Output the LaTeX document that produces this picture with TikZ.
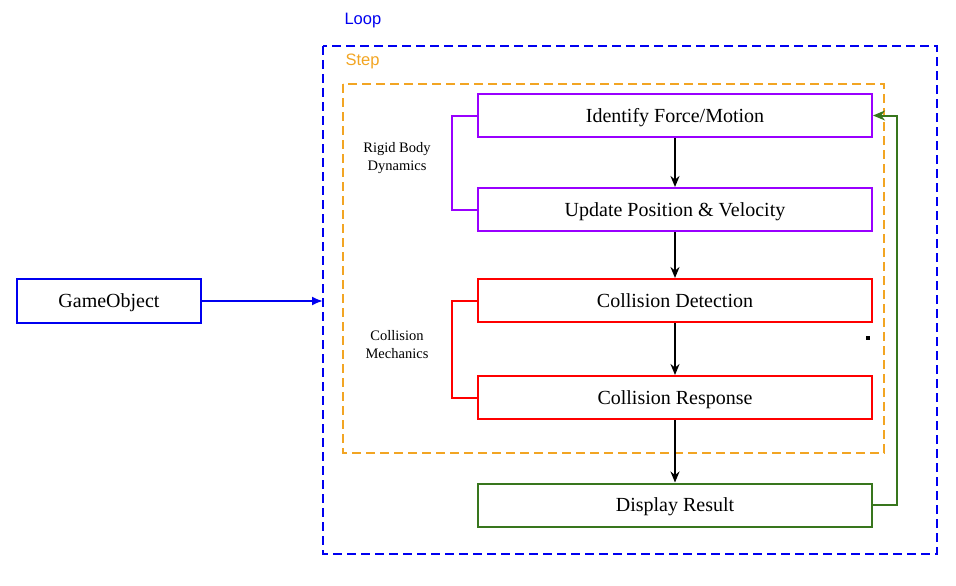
\documentclass[tikz,border=0pt]{standalone}
\usepackage{fontspec}
\setmainfont{Liberation Serif}
\newfontfamily\labsans{Liberation Sans}
\usetikzlibrary{arrows.meta}
\definecolor{loopblue}{RGB}{0,0,240}
\definecolor{steporange}{RGB}{242,165,35}
\definecolor{rbpurple}{RGB}{153,0,255}
\definecolor{cmred}{RGB}{255,0,0}
\definecolor{dgreen}{RGB}{56,118,29}
\begin{document}
\begin{tikzpicture}[x=1pt,y=-1pt,
  box/.style={draw,line width=2pt,minimum width=394pt,minimum height=43pt,inner sep=0pt,text height=14pt,text depth=1pt,font=\fontsize{20}{23}\selectfont},
  sidelabel/.style={align=center,font=\fontsize{14.5}{18}\selectfont},
  flow/.style={line width=2pt,-{Stealth[length=11pt,width=9pt]}},
  frame/.style={line width=2.4pt,dash pattern=on 9pt off 5pt}]
\useasboundingbox (0,0) rectangle (956,586);
% frames
\draw[frame,loopblue] (323,46) rectangle (937,554);
\node[loopblue,font=\labsans\fontsize{16.5}{18}\selectfont,anchor=west] (looplab) at (341,21) {Loop};
\draw[frame,steporange] (343,84) rectangle (884,453);
\node[steporange,font=\labsans\fontsize{16.5}{18}\selectfont,anchor=west] (steplab) at (342,61) {Step};
% boxes
\node[box,draw=rbpurple] (ifm) at (675,115.5) {Identify Force/Motion};
\node[box,draw=rbpurple] (upv) at (675,209.5) {Update Position \& Velocity};
\node[box,draw=cmred] (cd) at (675,300.5) {Collision Detection};
\node[box,draw=cmred] (cr) at (675,397.5) {Collision Response};
\node[box,draw=dgreen] (dr) at (675,505) {Display Result};
\node[box,draw=loopblue,minimum width=184pt,minimum height=44pt] (go) at (109,301) {GameObject};
% side labels
\node[sidelabel] (rbd) at (397,158.5) {Rigid Body\\Dynamics};
\node[sidelabel] (cml) at (397,344.5) {Collision\\Mechanics};
% brackets
\draw[rbpurple,line width=2pt] (ifm.west) -- ++(-25,0) |- (upv.west);
\draw[cmred,line width=2pt] (cd.west) -- ++(-25,0) |- (cr.west);
% flow arrows
\draw[flow] (ifm) -- (upv);
\draw[flow] (upv) -- (cd);
\draw[flow] (cd) -- (cr);
\draw[flow] (cr) -- (dr);
% feedback
\coordinate (fb) at (897,0);
\draw[dgreen,line width=2pt,-{Stealth[length=12pt,width=10pt]}] (dr.east) -| (fb |- ifm.east) -- (ifm.east);
% input arrow
\coordinate (loopin) at (323,301);
\draw[loopblue,line width=2pt,-{Latex[length=11pt,width=9pt]}] (go.east) -- (loopin);
% small mark
\node[fill=black,minimum size=4.5pt,inner sep=0pt] (dot) at (868,338) {};
\end{tikzpicture}
\end{document}
